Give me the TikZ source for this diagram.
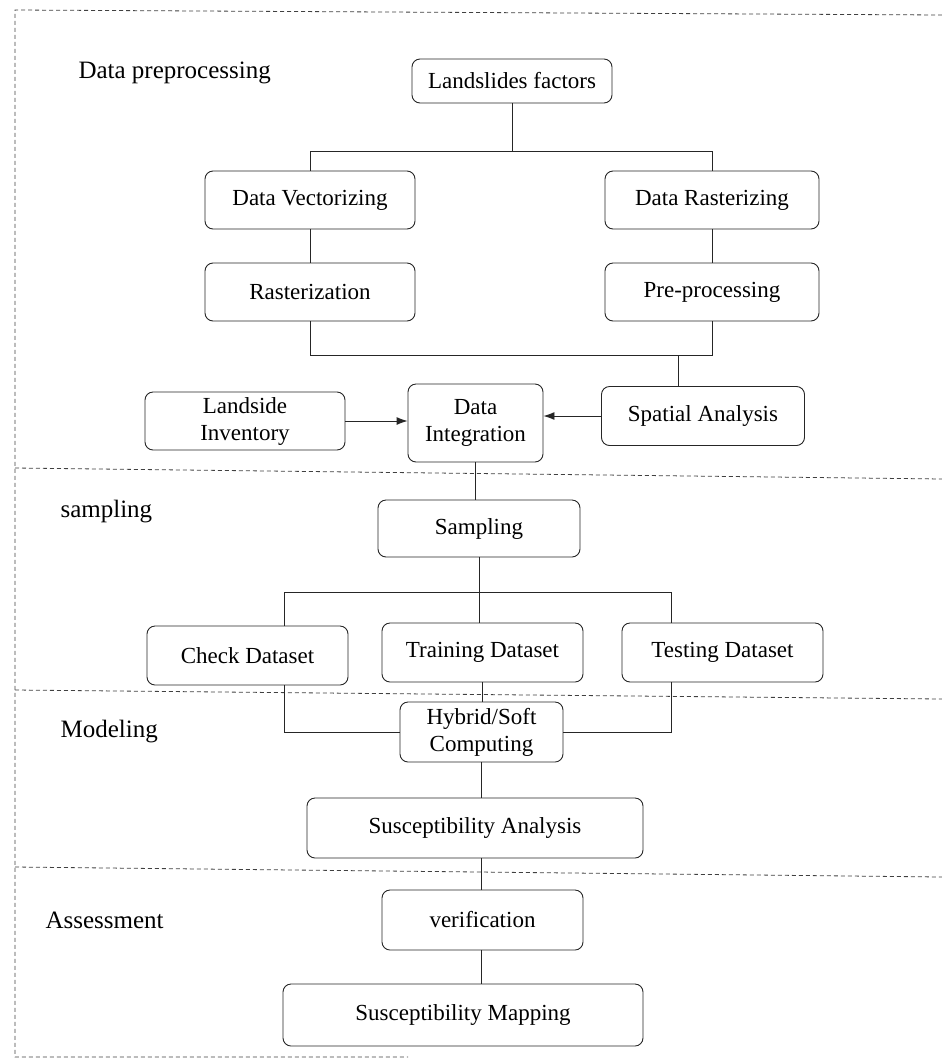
\documentclass[tikz,border=0pt]{standalone}
\usepackage{fontspec}
\setmainfont{Liberation Serif}
\usetikzlibrary{arrows.meta}

\begin{document}
\begin{tikzpicture}[x=1pt, y=-1pt,
    box/.style={draw=black!85, rounded corners=8pt, line width=0.9pt, inner sep=0pt,
        align=center, font=\fontsize{23}{27}\selectfont},
    link/.style={draw=black!85, line width=0.9pt},
    zone/.style={draw=black!75, dash pattern=on 4pt off 3pt, line width=0.8pt},
    stage/.style={anchor=base west, font=\fontsize{25}{29}\selectfont}]

      \useasboundingbox (0,0) rectangle (942,1061);

      % stage frame and separators
      \draw[zone] (942,15) -- (15,10) -- (15,1057) -- (408,1057);
      \draw[zone] (15,468) -- (942,479);
      \draw[zone] (15,690) -- (942,699);
      \draw[zone] (15,867) -- (942,877);

      \node[stage] (tpre) at (75,78) {Data preprocessing};
      \node[stage] (tsam) at (57,517) {sampling};
      \node[stage] (tmod) at (57,737) {Modeling};
      \node[stage] (tass) at (42,928) {Assessment};

      % data preprocessing
      \node[box, minimum width=200, minimum height=44] (lf) at (512,81) {Landslides factors};
      \node[box, minimum width=210, minimum height=58] (dv) at (310,200) {Data Vectorizing};
      \node[box, minimum width=214, minimum height=58] (dr) at (712,200) {Data Rasterizing};
      \node[box, minimum width=210, minimum height=58] (ras) at (310,292) {Rasterization};
      \node[box, minimum width=214, minimum height=58] (pre) at (712,292) {Pre-processing};
      \node[box, minimum width=200, minimum height=58] (li) at (245,421) {Landside\\Inventory};
      \node[box, minimum width=135, minimum height=78] (di) at (475.5,423) {Data\\Integration};
      \node[box, minimum width=203, minimum height=59] (sa) at (703,416) {Spatial Analysis};

      \coordinate (split1) at (512,151);
      \coordinate (merge) at (678,355);

      \draw[link] (lf) -- (split1);
      \draw[link] (dv.north) |- (split1 -| dr.north) -- (dr.north);
      \draw[link] (dv) -- (ras);
      \draw[link] (dr) -- (pre);
      \draw[link] (ras.south) |- (merge -| pre.south) -- (pre.south);
      \draw[link] (merge) -- (merge |- sa.north);
      \draw[link, -{Latex[length=11pt, width=8pt]}] (li.east) -- (li.east -| di.west);
      \draw[link, -{Latex[length=11pt, width=8pt]}] (sa.west) -- (sa.west -| di.east);

      % sampling
      \node[box, minimum width=202, minimum height=57] (samp) at (479,528.5) {Sampling};
      \node[box, minimum width=201, minimum height=59] (check) at (247.5,655.5) {Check Dataset};
      \node[box, minimum width=201, minimum height=59] (train) at (482.5,652.5) {Training Dataset};
      \node[box, minimum width=201, minimum height=59] (test) at (722.5,652.5) {Testing Dataset};

      \coordinate (split2) at (479,592);
      \coordinate (cdrop) at (284,592);
      \coordinate (tdrop) at (671,592);

      \draw[link] (di.south) -- (di.south |- samp.north);
      \draw[link] (samp) -- (split2);
      \draw[link] (cdrop) -- (tdrop);
      \draw[link] (cdrop) -- (cdrop |- check.north);
      \draw[link] (split2) -- (split2 |- train.north);
      \draw[link] (tdrop) -- (tdrop |- test.north);

      % modeling
      \node[box, minimum width=163, minimum height=60] (hyb) at (481.5,732) {Hybrid/Soft\\Computing};
      \node[box, minimum width=336, minimum height=60] (susa) at (475,828) {Susceptibility Analysis};

      \draw[link] (cdrop |- check.south) |- (hyb.west);
      \draw[link] (tdrop |- test.south) |- (hyb.east);
      \draw[link] (train.south) -- (train.south |- hyb.north);
      \draw[link] (hyb.south) -- (hyb.south |- susa.north);

      % assessment
      \node[box, minimum width=201, minimum height=60] (ver) at (482.5,920) {verification};
      \node[box, minimum width=360, minimum height=62] (map) at (463,1015) {Susceptibility Mapping};

      \draw[link] (hyb.south |- susa.south) -- (hyb.south |- ver.north);
      \draw[link] (hyb.south |- ver.south) -- (hyb.south |- map.north);

\end{tikzpicture}
\end{document}
